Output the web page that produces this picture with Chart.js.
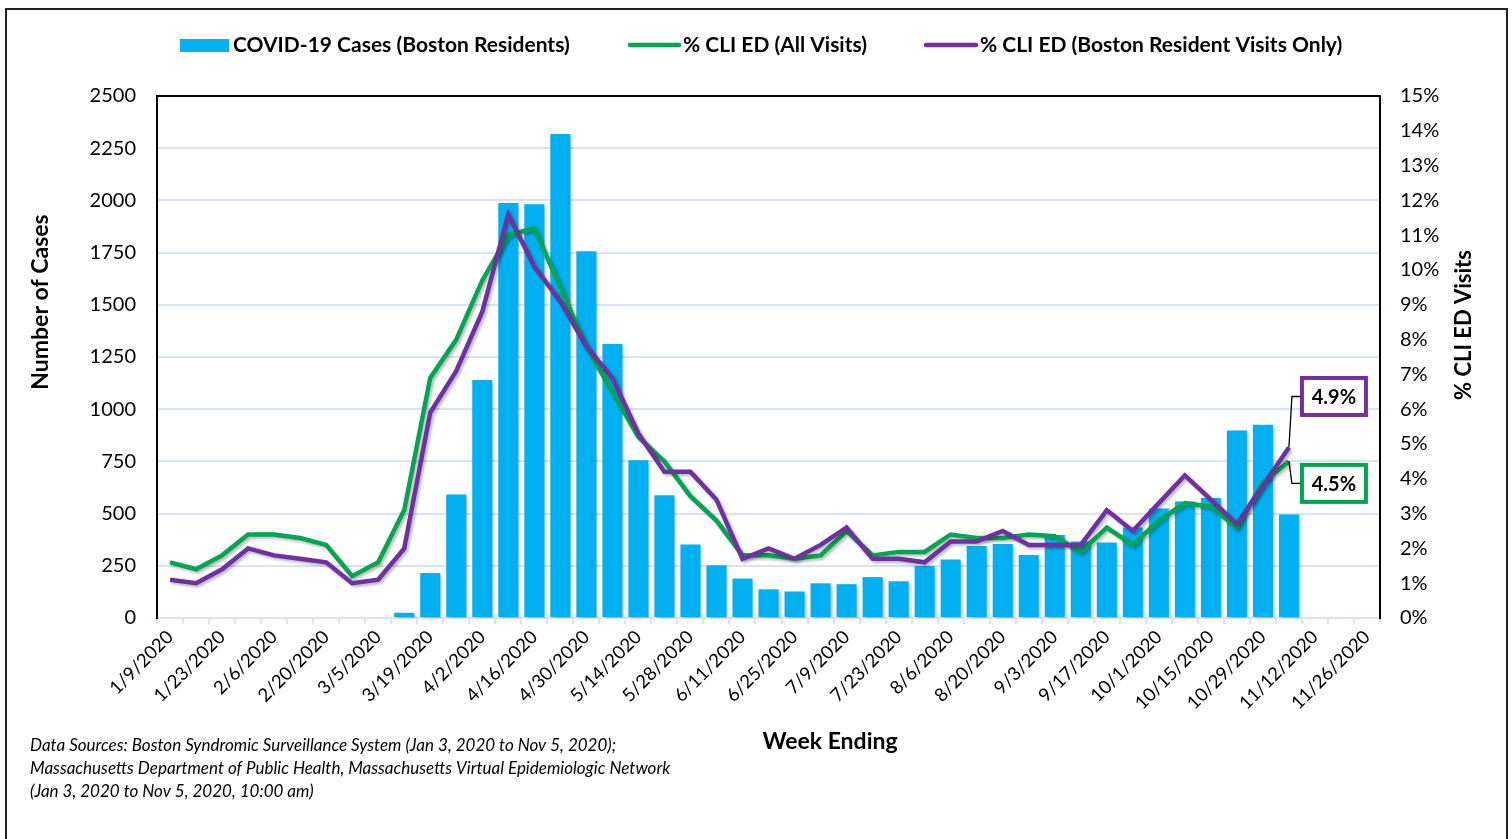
<!DOCTYPE html>
<html>
<head>
<meta charset="utf-8">
<script src="https://cdn.jsdelivr.net/npm/chart.js@4.4.1/dist/chart.umd.min.js"></script>
<style>
  html, body { margin: 0; padding: 0; background: #fff; }
  #wrap { width: 1512px; height: 839px; position: relative; }
</style>
</head>
<body>
<div id="wrap"><canvas id="chart" width="1512" height="839"></canvas></div>
<script>
// week ending dates (x axis categories)
const weeks = [
  '1/9/2020', '1/16/2020', '1/23/2020', '1/30/2020', '2/6/2020', '2/13/2020', '2/20/2020', '2/27/2020',
  '3/5/2020', '3/12/2020', '3/19/2020', '3/26/2020', '4/2/2020', '4/9/2020', '4/16/2020', '4/23/2020',
  '4/30/2020', '5/7/2020', '5/14/2020', '5/21/2020', '5/28/2020', '6/4/2020', '6/11/2020', '6/18/2020',
  '6/25/2020', '7/2/2020', '7/9/2020', '7/16/2020', '7/23/2020', '7/30/2020', '8/6/2020', '8/13/2020',
  '8/20/2020', '8/27/2020', '9/3/2020', '9/10/2020', '9/17/2020', '9/24/2020', '10/1/2020', '10/8/2020',
  '10/15/2020', '10/22/2020', '10/29/2020', '11/5/2020', '11/12/2020', '11/19/2020', '11/26/2020'
]

// weekly COVID-19 cases, Boston residents
const bostonCases = [
  null, null, null, null, null, null, null, null, null,
  25, 215, 592, 1140, 1987, 1982, 2318, 1757, 1312, 756, 588, 352, 253, 189, 137, 127,
  166, 162, 196, 176, 249, 280, 345, 354, 302, 398, 366, 361, 434, 524, 558, 575, 898, 925, 496,
  null, null, null
]

// % CLI ED visits, all visits
const cliAllVisits = [
  1.6, 1.4, 1.8, 2.4, 2.4, 2.3, 2.1, 1.2, 1.6, 3.1, 6.9, 8.0, 9.7, 11.0, 11.2, 9.5,
  7.8, 6.5, 5.2, 4.5, 3.5, 2.8, 1.8, 1.8, 1.7, 1.8, 2.5, 1.8, 1.9, 1.9, 2.4, 2.3,
  2.3, 2.4, 2.35, 1.9, 2.6, 2.1, 2.8, 3.3, 3.2, 2.6, 3.9, 4.5, null, null, null
]

// % CLI ED visits, Boston resident visits only
const cliBostonVisits = [
  1.1, 1.0, 1.4, 2.0, 1.8, 1.7, 1.6, 1.0, 1.1, 2.0, 5.9, 7.1, 8.8, 11.6, 10.1, 9.1,
  7.8, 6.9, 5.3, 4.2, 4.2, 3.4, 1.7, 2.0, 1.7, 2.1, 2.6, 1.7, 1.7, 1.6, 2.2, 2.2,
  2.5, 2.1, 2.1, 2.1, 3.1, 2.5, 3.3, 4.1, 3.4, 2.7, 3.8, 4.9, null, null, null
]

const seriesNames = ['COVID-19 Cases (Boston Residents)', '% CLI ED (All Visits)', '% CLI ED (Boston Resident Visits Only)']
const footnoteLines = [
  'Data Sources: Boston Syndromic Surveillance System (Jan 3, 2020 to Nov 5, 2020);',
  'Massachusetts Department of Public Health, Massachusetts Virtual Epidemiologic Network',
  '(Jan 3, 2020 to Nov 5, 2020, 10:00 am)'
]

const BLUE = '#00b0f0'
const GREEN = '#00a651'
const PURPLE = '#7030a0'
const GRID = '#d9e3f2'
const FONT = 'Lato, "Open Sans", sans-serif'

Chart.defaults.font.family = FONT
Chart.defaults.color = '#000'

function lastPoint(chart, datasetIndex) {
  const meta = chart.getDatasetMeta(datasetIndex)
  const data = chart.data.datasets[datasetIndex].data
  let idx = data.length - 1
  while (idx > 0 && data[idx] == null) idx--
  return {el: meta.data[idx], value: data[idx]}
}

function drawCallout(ctx, pt, boxY, color) {
  const boxX = pt.el.x + 13
  const boxW = 64
  const boxH = 37
  ctx.strokeStyle = '#000'
  ctx.lineWidth = 1.3
  ctx.beginPath()
  ctx.moveTo(pt.el.x, pt.el.y)
  ctx.lineTo(pt.el.x + 3, boxY)
  ctx.lineTo(boxX, boxY)
  ctx.stroke()
  ctx.fillStyle = '#fff'
  ctx.fillRect(boxX, boxY - boxH / 2, boxW, boxH)
  ctx.strokeStyle = color
  ctx.lineWidth = 4
  ctx.strokeRect(boxX, boxY - boxH / 2, boxW, boxH)
  ctx.fillStyle = '#000'
  ctx.font = `bold 20px ${FONT}`
  ctx.textAlign = 'center'
  ctx.textBaseline = 'middle'
  ctx.fillText(pt.value.toFixed(1) + '%', boxX + boxW / 2, boxY + 1)
}

const decorations = {
  id: 'decorations',
  beforeDatasetDraw(chart) {
    const ctx = chart.ctx
    ctx.save()
    ctx.shadowColor = 'rgba(0, 0, 0, 0.28)'
    ctx.shadowOffsetX = 2
    ctx.shadowOffsetY = 2
    ctx.shadowBlur = 3
  },
  afterDatasetDraw(chart) {
    chart.ctx.restore()
  },
  afterDraw(chart) {
    const ctx = chart.ctx
    const area = chart.chartArea
    ctx.save()

    // outer frame
    ctx.strokeStyle = '#222'
    ctx.lineWidth = 2
    ctx.strokeRect(6, 9, 1501, 840)

    // top edge of plot area
    ctx.strokeStyle = '#000'
    ctx.lineWidth = 2
    ctx.beginPath()
    ctx.moveTo(area.left - 1, area.top)
    ctx.lineTo(area.right + 1, area.top)
    ctx.stroke()

    // legend
    const legendY = 45
    ctx.fillStyle = BLUE
    ctx.fillRect(180, 39, 49, 13)
    ctx.lineCap = 'round'
    ctx.lineWidth = 4.5
    ctx.strokeStyle = GREEN
    ctx.beginPath(); ctx.moveTo(630, legendY); ctx.lineTo(679, legendY); ctx.stroke()
    ctx.strokeStyle = PURPLE
    ctx.beginPath(); ctx.moveTo(926, legendY); ctx.lineTo(976, legendY); ctx.stroke()
    ctx.lineCap = 'butt'
    ctx.fillStyle = '#000'
    ctx.font = `bold 21px ${FONT}`
    ctx.textAlign = 'left'
    ctx.textBaseline = 'middle'
    ctx.fillText(seriesNames[0], 233, legendY, 337)
    ctx.fillText(seriesNames[1], 683, legendY, 184)
    ctx.fillText(seriesNames[2], 980, legendY, 364)

    // axis titles
    ctx.font = `bold 23px ${FONT}`
    ctx.textAlign = 'center'
    ctx.save()
    ctx.translate(41, 302)
    ctx.rotate(-Math.PI / 2)
    ctx.fillText('Number of Cases', 0, 0)
    ctx.restore()
    ctx.font = `bold 22px ${FONT}`
    ctx.save()
    ctx.translate(1464, 325)
    ctx.rotate(-Math.PI / 2)
    ctx.fillText('% CLI ED Visits', 0, 0)
    ctx.restore()
    ctx.font = `bold 23px ${FONT}`
    ctx.fillText('Week Ending', 830, 742)

    // data source note
    ctx.font = `italic 17px ${FONT}`
    ctx.textAlign = 'left'
    footnoteLines.forEach((line, i) => {
      ctx.fillText(line, 30, 746 + i * 23, 660)
    })

    // latest-value callouts
    const green = lastPoint(chart, 1)
    const purple = lastPoint(chart, 2)
    drawCallout(ctx, purple, purple.el.y - 51, PURPLE)
    drawCallout(ctx, green, green.el.y + 22, GREEN)

    ctx.restore()
  }
}

const chart = new Chart(document.getElementById('chart').getContext('2d'), {
  type: 'bar',
  data: {
    labels: weeks,
    datasets: [
      {
        type: 'bar',
        label: seriesNames[0],
        data: bostonCases,
        backgroundColor: BLUE,
        borderWidth: 0,
        barPercentage: 0.77,
        categoryPercentage: 1.0,
        yAxisID: 'y',
        order: 3,
      },
      {
        type: 'line',
        label: seriesNames[1],
        data: cliAllVisits,
        borderColor: GREEN,
        backgroundColor: GREEN,
        borderWidth: 4.5,
        pointRadius: 0,
        tension: 0,
        spanGaps: false,
        yAxisID: 'y1',
        order: 2,
      },
      {
        type: 'line',
        label: seriesNames[2],
        data: cliBostonVisits,
        borderColor: PURPLE,
        backgroundColor: PURPLE,
        borderWidth: 4.5,
        pointRadius: 0,
        tension: 0,
        spanGaps: false,
        yAxisID: 'y1',
        order: 1,
      },
    ],
  },
  options: {
    responsive: false,
    animation: false,
    layout: {
      padding: {top: 96, left: 0, right: 0, bottom: 0},
    },
    plugins: {
      legend: {display: false},
      tooltip: {enabled: false},
    },
    scales: {
      x: {
        offset: true,
        grid: {
          offset: true,
          drawOnChartArea: false,
          drawTicks: true,
          tickLength: 6,
          color: GRID,
          lineWidth: 2,
        },
        border: {color: GRID, width: 2},
        ticks: {
          autoSkip: false,
          maxRotation: 45,
          minRotation: 45,
          padding: 2,
          font: {size: 18.5},
          callback: (value, index) => index % 2 === 0 ? weeks[index] : '',
        },
        afterFit: scale => { scale.height = 221 },
      },
      y: {
        position: 'left',
        min: 0,
        max: 2500,
        grid: {
          color: ctx => ctx.tick && ctx.tick.value === 0 ? 'rgba(0,0,0,0)' : GRID,
          lineWidth: 2,
          drawTicks: false,
        },
        border: {color: '#000', width: 2},
        ticks: {
          stepSize: 250,
          padding: 21,
          font: {size: 20},
          callback: value => String(value),
        },
        afterFit: scale => { scale.width = 157 },
      },
      y1: {
        position: 'right',
        min: 0,
        max: 15,
        grid: {drawOnChartArea: false, drawTicks: false},
        border: {color: '#000', width: 2},
        ticks: {
          stepSize: 1,
          padding: 20,
          font: {size: 20},
          callback: value => value + '%',
        },
        afterFit: scale => { scale.width = 132 },
      },
    },
  },
  plugins: [decorations],
})
</script>
</body>
</html>
